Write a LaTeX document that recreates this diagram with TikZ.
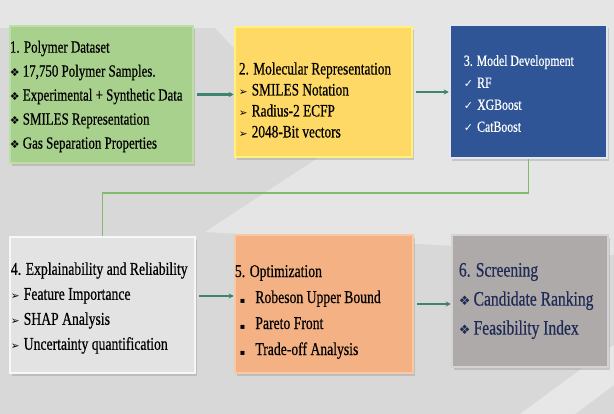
\documentclass[tikz,border=0pt]{standalone}
\usepackage{fontspec}
\setmainfont{Liberation Serif}[FakeStretch=0.76,FakeBold=0.5]
\newfontfamily\symfont{DejaVu Sans}
\usetikzlibrary{positioning,arrows.meta,shadows}

\definecolor{bgdark}{HTML}{D8D8D8}
\definecolor{bglight}{HTML}{E5E5E5}
\definecolor{boxgreen}{HTML}{A9D18E}
\definecolor{edgegreen}{HTML}{BFDDA8}
\definecolor{boxyellow}{HTML}{FFD966}
\definecolor{edgeyellow}{HTML}{FFF27A}
\definecolor{boxblue}{HTML}{2F5597}
\definecolor{edgeblue}{HTML}{E4E6EE}
\definecolor{boxgray}{HTML}{E4E3E3}
\definecolor{edgegray}{HTML}{F7F7F7}
\definecolor{boxorange}{HTML}{F4B183}
\definecolor{edgeorange}{HTML}{F8C9A6}
\definecolor{boxslate}{HTML}{AEAAAA}
\definecolor{edgeslate}{HTML}{D4D2D2}
\definecolor{navy}{HTML}{1F2A55}
\definecolor{linkteal}{HTML}{3F8470}
\definecolor{linkgreen}{HTML}{80BA6C}

% list markers
\newcommand*\bdiam[1]{{\symfont\fontsize{#1}{#1}\selectfont ❖}\hspace{3pt}}
\newcommand*\barrow{{\symfont\fontsize{10.5}{10.5}\selectfont ➢}\hspace{4pt}}
\newcommand*\btick{{\symfont\fontsize{11}{11}\selectfont ✓}\hspace{4pt}}
\newcommand*\bsquare{\hspace{5pt}{\symfont\fontsize{8}{8}\selectfont ▪}\hspace{10pt}}

\begin{document}
\begin{tikzpicture}
  [x=1pt,y=-1pt,every node/.style={inner sep=0pt},
   box/.style={rectangle,line width=2.5pt,
     drop shadow={shadow xshift=2pt,shadow yshift=-3pt,opacity=.3}},
   txt/.style={align=left,anchor=west},
   link/.style={line width=2.6pt,draw=linkteal,
     -{Stealth[length=5pt,width=5pt]},shorten <=3pt}]

  % background
  \fill[bgdark] (0,0) rectangle (614,414);
  \fill[bglight] (0,0) -- (614,0) -- (614,255) -- (205,232) -- (330,150) -- (215,28) -- (0,28) -- cycle;
  \fill[white,opacity=.4] (520,414) -- (614,345) -- (614,385) -- (575,414) -- cycle;

  % boxes
  \node[box,fill=boxgreen,draw=edgegreen,minimum width=183pt,minimum height=137pt] (n1) at (101.5,94.5) {};
  \node[box,fill=boxyellow,draw=edgeyellow,minimum width=177pt,minimum height=130pt] (n2) at (323.5,92) {};
  \node[box,fill=boxblue,draw=edgeblue,minimum width=157pt,minimum height=133pt] (n3) at (528.5,91.5) {};
  \node[box,fill=boxgray,draw=edgegray,minimum width=185pt,minimum height=136pt] (n4) at (102.5,305) {};
  \node[box,fill=boxorange,draw=edgeorange,minimum width=178pt,minimum height=138pt] (n5) at (324,304) {};
  \node[box,fill=boxslate,draw=edgeslate,minimum width=156pt,minimum height=132pt] (n6) at (530,301) {};

  % box texts
  \node[txt,font=\fontsize{17}{24}\selectfont,right=1pt of n1.west,yshift=-2pt] (t1)
    {1. Polymer Dataset\\ \bdiam{11}17,750 Polymer Samples.\\
     \bdiam{11}Experimental + Synthetic Data\\ \bdiam{11}SMILES Representation\\
     \bdiam{11}Gas Separation Properties};
  \node[txt,font=\fontsize{17.5}{21}\selectfont,right=5pt of n2.west,yshift=-8pt] (t2)
    {2. Molecular Representation\\ \barrow SMILES Notation\\
     \barrow Radius-2 ECFP\\ \barrow 2048-Bit vectors};
  \node[txt,text=white,font=\fontsize{15.5}{22}\selectfont,right=15pt of n3.west,yshift=-2pt] (t3)
    {3. Model Development\\ \btick RF\\ \btick XGBoost\\ \btick CatBoost};
  \node[txt,font=\fontsize{18}{25}\selectfont,right=2pt of n4.west,yshift=-3pt] (t4)
    {4. Explainability and Reliability\\ \barrow Feature Importance\\
     \barrow SHAP Analysis\\ \barrow Uncertainty quantification};
  \node[txt,font=\fontsize{18}{26}\selectfont,right=1pt of n5.west,yshift=-8pt] (t5)
    {5. Optimization\\ \bsquare Robeson Upper Bound\\
     \bsquare Pareto Front\\ \bsquare Trade-off Analysis};
  \node[txt,text=navy,font=\fontsize{20.5}{29}\selectfont,right=8pt of n6.west] (t6)
    {6. Screening\\ \bdiam{13}Candidate Ranking\\ \bdiam{13}Feasibility Index};

  % connectors
  \draw[link] (n1.east) -- (n1.east -| n2.west);
  \draw[link] (n2.east) -- (n2.east -| n3.west);
  \draw[line width=1.6pt,draw=linkgreen] (n3.south) -- ++(0,34) -| (n4.north);
  \draw[link] ([yshift=9pt]n4.east) -- ([yshift=9pt]n4.east -| n5.west);
  \draw[link] (n5.east) -- (n5.east -| n6.west);
\end{tikzpicture}
\end{document}
